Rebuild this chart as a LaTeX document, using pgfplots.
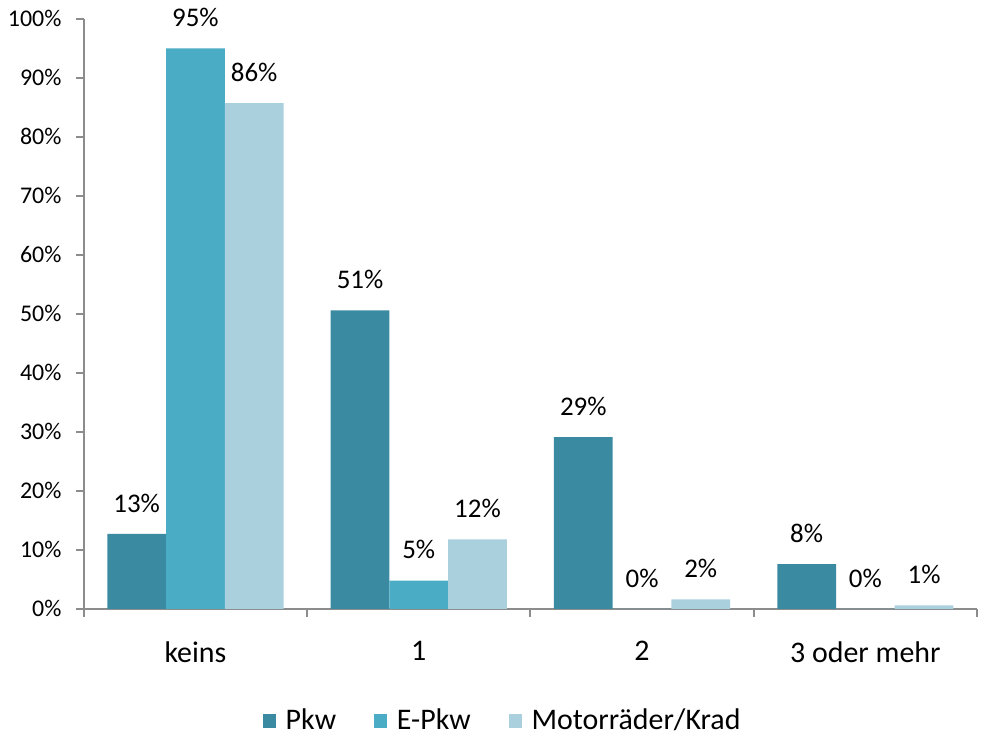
\documentclass[border=0pt]{standalone}
\usepackage{pgfplots}
\pgfplotsset{compat=1.18}
\usepackage{fontspec}
\setmainfont{Carlito}
\definecolor{cPkw}{HTML}{3A8BA2}
\definecolor{cE}{HTML}{4BACC6}
\definecolor{cM}{HTML}{AACFDD}
\definecolor{axgray}{HTML}{8C8C8C}
\begin{document}
\fontsize{12}{14}\selectfont
\begin{tikzpicture}
\begin{axis}[
  width=448pt, height=296pt, scale only axis,
  xmin=-0.5, xmax=3.5, ymin=0, ymax=100,
  ybar=0pt, bar width=0.263,
  clip=false,
  axis lines=left,
  axis line style={-, draw=axgray, line width=1pt},
  tick style={draw=axgray, line width=1pt},
  tick align=outside,
  ytick={0,10,...,100},
  yticklabels={0\%,10\%,20\%,30\%,40\%,50\%,60\%,70\%,80\%,90\%,100\%},
  y tick label style={xshift=-3pt, font=\fontsize{12}{14}\selectfont},
  major tick length=4pt,
  xtick={-0.5,0.5,1.5,2.5,3.5},
  xticklabels={},
  extra x ticks={0,1,2,3},
  extra x tick labels={keins,1,2,3 oder mehr},
  extra x tick style={major tick length=0pt, tick style={draw=none},
    tick label style={yshift=-12pt, font=\fontsize{15}{18}\selectfont}},
  nodes near coords={\pgfmathprintnumber[fixed,precision=0,assume math mode=true]{\pgfplotspointmeta}\%},
  every node near coord/.append style={anchor=base, yshift=11pt, text=black,
    font=\fontsize{13.5}{16}\selectfont},
  legend style={at={(0.47,-0.19)}, anchor=center, draw=none, legend columns=3,
    font=\fontsize{15}{18}\selectfont,
    /tikz/every even column/.append style={column sep=17pt}},
  legend image code/.code={\fill[#1] (0pt,-3.3pt) rectangle (6.6pt,3.3pt); \path (9.5pt,0pt);},
]
\addplot[fill=cPkw, draw=none] coordinates {(0,12.7) (1,50.6) (2,29.1) (3,7.6)};
\addplot[fill=cE, draw=none] coordinates {(0,95.0) (1,4.8) (2,0) (3,0)};
\addplot[fill=cM, draw=none] coordinates {(0,85.7) (1,11.8) (2,1.6) (3,0.6)};
\legend{Pkw,E-Pkw,Motorräder/Krad}
\end{axis}
\end{tikzpicture}
\end{document}
